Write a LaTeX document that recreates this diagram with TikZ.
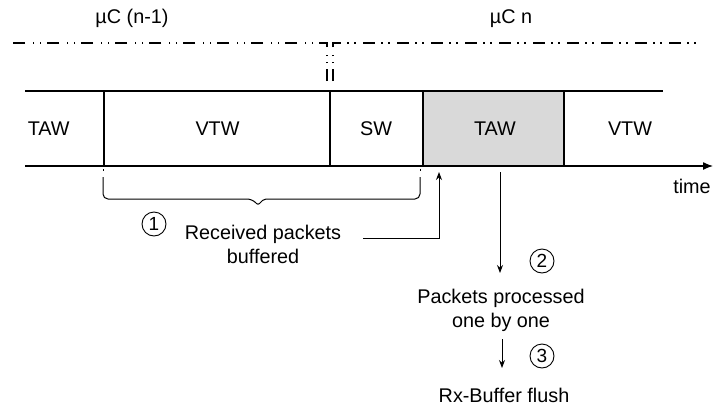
\documentclass[tikz,border=0pt]{standalone}
\usepackage{fontspec}
\setmainfont{Liberation Sans}
\usetikzlibrary{arrows.meta}
\definecolor{slot}{HTML}{D9D9D9}

\begin{document}
\begin{tikzpicture}[x=1pt,y=-1pt,
  lbl/.style={font=\fontsize{19.8}{23}\selectfont, inner sep=0pt, anchor=base},
  num/.style={draw, circle, line width=0.9pt, minimum size=24pt, inner sep=0pt,
              font=\fontsize{19}{19}\selectfont},
  frame/.style={line width=1.3pt},
  guide/.style={line width=1.4pt,
                dash pattern=on 12pt off 6pt on 1.5pt off 5.5pt on 1.5pt off 7.5pt,
                dash phase=29pt},
  flow/.style={line width=1pt, -{Stealth[length=8pt,width=6pt]}},
]
\useasboundingbox (0,0) rectangle (713,410);

% controller labels and the boundary between them
\node[lbl] (mc1) at (132,23) {µC (n-1)};
\node[lbl] (mc2) at (511,23) {µC n};
\draw[guide] (327,86) -- (327,43) -- (13,43);
\draw[guide] (333,86) -- (333,43) -- (697,43);

% time slots
\fill[slot] (423,91) rectangle (564,166);
\draw[frame] (25,91) -- (663,91);
\foreach \x in {104,330,423,564} \draw[frame] (\x,91) -- (\x,166);
\coordinate (t0) at (25,166);
\coordinate (t1) at (713,166);
\draw[frame, -{Latex[length=10pt,width=8pt]}] (t0) -- (t1);

\node[lbl] (taw1) at (48.7,135) {TAW};
\node[lbl] (vtw1) at (217.5,135) {VTW};
\node[lbl] (sw)   at (376,135) {SW};
\node[lbl] (taw2) at (495,135) {TAW};
\node[lbl] (vtw2) at (630,135) {VTW};
\node[lbl] (time) at (692,193) {time};

% brace over the reception interval
\draw[line width=1pt] (103,169) -- (103,171) (420,169) -- (420,171);
\draw[line width=1pt, rounded corners=5pt]
  (103,177) -- (103,199) -- (252,199) [rounded corners=2pt] -- (258,205) -- (264,199)
  [rounded corners=5pt] -- (420,199) -- (420,177);

% step 1
\node[num] (n1) at (154,224) {1};
\node[lbl] (rcv1) at (263,239) {Received packets};
\node[lbl] (rcv2) at (263,263) {buffered};
\coordinate (b0) at (363,238);
\coordinate (b1) at (439,172);
\draw[flow] (b0) -| (b1);

% step 2
\coordinate (p0) at (500,172);
\coordinate (p1) at (500,273);
\draw[flow] (p0) -- (p1);
\node[num] (n2) at (542,261) {2};
\node[lbl] (prc1) at (501,303) {Packets processed};
\node[lbl] (prc2) at (501,327) {one by one};

% step 3
\coordinate (q0) at (502,339);
\coordinate (q1) at (502,368);
\draw[flow] (q0) -- (q1);
\node[num] (n3) at (542,356) {3};
\node[lbl] (fl) at (504,402) {Rx-Buffer flush};
\end{tikzpicture}
\end{document}
